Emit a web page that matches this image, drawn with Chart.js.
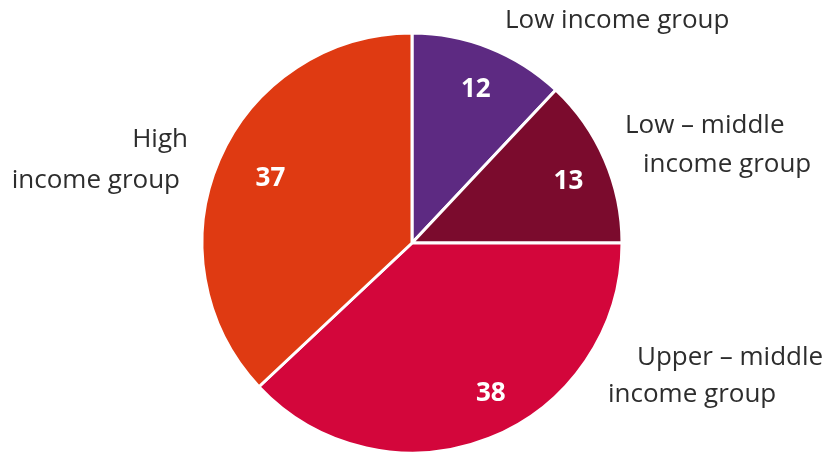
<!DOCTYPE html>
<html>
<head>
<meta charset="utf-8">
<script src="https://cdn.jsdelivr.net/npm/chart.js@4"></script>
<style>
  html, body { margin: 0; padding: 0; background: #fff; }
  #pie { display: block; }
</style>
</head>
<body>
<canvas id="pie" width="825" height="456"></canvas>
<script>
// income groups, clockwise from 12 o'clock
const groups = ["Low income group", "Low – middle income group", "Upper – middle income group", "High income group"];
const shares = [12, 13, 38, 37];
const colours = ["#5d2a82", "#7b0b2d", "#d3063b", "#df3a12"];

// outside label lines per group: [text, x, baseline y, align]
const labelLines = [
  [["Low income group", 505, 28, "left"]],
  [["Low – middle", 625, 133, "left"], ["income group", 643, 172, "left"]],
  [["Upper – middle", 637, 365, "left"], ["income group", 608, 402, "left"]],
  [["High", 188, 147, "right"], ["income group", 180, 188, "right"]]
];
// where each value sits: share of radius, and nudge off the mid angle (deg)
const valueRadius = [0.79, 0.8, 0.81, 0.74];
const valueNudge = [1, 2, -6, 1];

const labelFont = '26px "Open Sans", sans-serif';
const valueFont = 'bold 26px "Open Sans", sans-serif';

const sliceLabels = {
  id: "sliceLabels",
  afterDatasetsDraw(chart) {
    const ctx = chart.ctx;
    const arcs = chart.getDatasetMeta(0).data;
    ctx.save();
    ctx.textBaseline = "middle";
    ctx.font = valueFont;
    ctx.fillStyle = "#fff";
    ctx.textAlign = "center";
    arcs.forEach((arc, i) => {
      const mid = (arc.startAngle + arc.endAngle) / 2 + valueNudge[i] * Math.PI / 180;
      const r = arc.outerRadius * valueRadius[i];
      ctx.fillText(String(shares[i]), arc.x + Math.cos(mid) * r, arc.y + Math.sin(mid) * r);
    });
    ctx.textBaseline = "alphabetic";
    ctx.font = labelFont;
    ctx.fillStyle = "#2d2d2d";
    labelLines.forEach(lines => {
      lines.forEach(([t, x, y, align]) => {
        ctx.textAlign = align;
        ctx.fillText(t, x, y);
      });
    });
    ctx.restore();
  }
};

new Chart(document.getElementById("pie"), {
  type: "pie",
  data: {
    labels: groups,
    datasets: [{
      data: shares,
      backgroundColor: colours,
      borderColor: "#fff",
      borderWidth: 3
    }]
  },
  options: {
    responsive: false,
    animation: false,
    radius: 210,
    layout: { padding: { left: 0, right: 1, top: 30, bottom: 0 } },
    plugins: {
      legend: { display: false },
      tooltip: { enabled: false }
    }
  },
  plugins: [sliceLabels]
});
</script>
</body>
</html>
